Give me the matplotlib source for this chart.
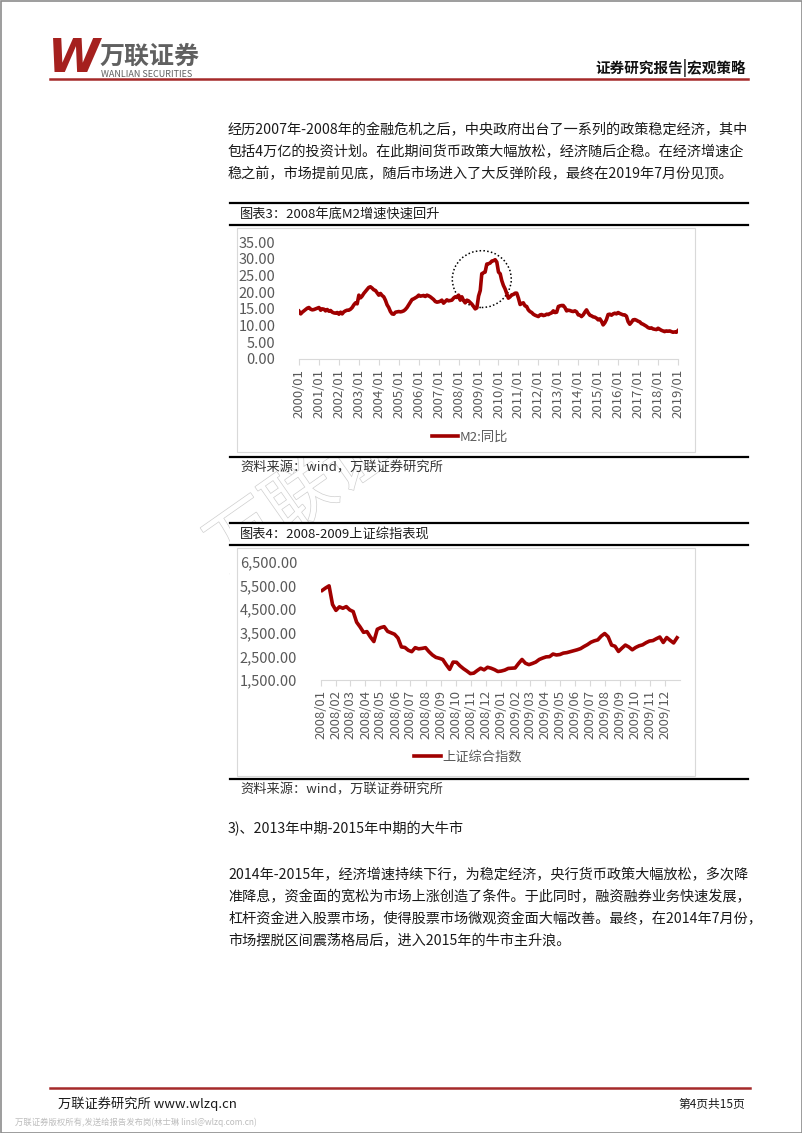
import numpy as np
import pandas as pd
import matplotlib
matplotlib.use("Agg")
import matplotlib.pyplot as plt
import matplotlib.dates as mdates
import matplotlib.patheffects as pe
from matplotlib.patches import Ellipse, Rectangle

plt.rcParams['font.family'] = ['Noto Sans CJK SC', 'DejaVu Sans']

# M2 yoy, monthly 2000/01 - 2019/01
m2_yoy = [
    14.3, 13.5, 14.0, 14.4, 14.8, 15.2, 15.4, 14.9, 14.7, 14.8, 15.0, 15.2,
    15.4, 14.6, 15.0, 14.9, 14.4, 14.8, 14.3, 14.5, 14.0, 13.8, 13.7, 13.9,
    13.4, 14.0, 13.5, 14.1, 14.4, 14.6, 14.6, 14.9, 15.4, 16.2, 16.8, 16.5,
    19.1, 18.3, 18.8, 19.6, 20.2, 20.8, 21.4, 21.6, 21.2, 20.7, 20.5, 19.8,
    19.1, 19.6, 19.0, 18.6, 17.6, 16.2, 15.4, 14.2, 13.5, 13.4, 14.0, 14.1,
    14.2, 14.1, 14.2, 14.4, 14.8, 15.4, 16.2, 17.0, 17.8, 18.0, 18.3, 18.6,
    19.1, 18.8, 18.9, 19.0, 18.7, 19.1, 18.9, 18.6, 18.2, 17.8, 17.2, 17.0,
    17.1, 17.3, 17.6, 16.7, 17.2, 17.7, 17.4, 17.5, 17.6, 18.2, 18.6, 18.4,
    19.1, 17.6, 18.6, 17.5, 16.8, 17.6, 17.4, 16.9, 16.4, 15.7, 15.0, 15.3,
    18.8, 20.5, 25.5, 25.8, 26.0, 28.4, 28.5, 28.7, 29.3, 29.4, 29.7, 29.0,
    26.0, 25.5, 23.5, 22.0, 21.0, 19.6, 18.2, 18.6, 19.2, 19.3, 19.7, 19.7,
    18.2, 16.3, 16.6, 16.8, 15.9, 15.7, 14.7, 14.2, 13.9, 13.4, 13.1, 12.9,
    12.7, 13.2, 13.3, 13.0, 13.1, 13.4, 13.3, 13.6, 13.8, 14.4, 13.9, 14.0,
    15.7, 15.9, 16.0, 16.0, 15.4, 14.4, 14.6, 14.5, 14.3, 14.2, 14.4, 14.1,
    13.2, 13.1, 12.7, 13.2, 14.0, 14.7, 13.8, 13.1, 12.9, 12.6, 12.5, 12.2,
    11.7, 12.0, 11.3, 10.2, 10.8, 11.8, 13.3, 13.4, 13.1, 13.5, 13.7, 13.5,
    13.9, 13.6, 13.4, 13.2, 13.2, 12.8, 11.2, 10.4, 11.0, 11.7, 11.8, 11.6,
    11.3, 11.1, 10.6, 10.4, 10.1, 9.8, 9.4, 9.2, 9.3, 9.0, 8.9, 8.8,
    9.2, 8.9, 8.6, 8.4, 8.2, 8.4, 8.3, 8.4, 8.2, 8.0, 8.1, 8.0,
    8.5,
]
m2_dates = pd.date_range('2000-01-01', periods=len(m2_yoy), freq='MS')
m2_yticks = [0, 5, 10, 15, 20, 25, 30, 35]

# Shanghai composite, weekly 2008-2009
sh_index = [
    5296, 5400, 5490, 4700, 4450, 4600, 4540, 4610, 4470, 4400, 3950, 3750,
    3520, 3550, 3320, 3130, 3650, 3720, 3760, 3560, 3500, 3440, 3280, 2900,
    2880, 2760, 2700, 2870, 2820, 2840, 2870, 2700, 2560, 2460, 2420, 2370,
    2150, 1950, 2260, 2250, 2100, 1980, 1880, 1770, 1790, 1900, 2000, 1930,
    2040, 2000, 1940, 1860, 1880, 1920, 1990, 2000, 2010, 2200, 2370, 2210,
    2150, 2200, 2260, 2370, 2430, 2480, 2490, 2600, 2560, 2580, 2640, 2660,
    2700, 2740, 2780, 2830, 2920, 3000, 3100, 3160, 3200, 3360, 3470, 3330,
    2980, 2930, 2710, 2850, 2980, 2900, 2780, 2880, 2950, 2990, 3080, 3150,
    3170, 3250, 3320, 3090, 3300, 3180, 3070, 3290,
]
sh_dates = pd.date_range('2008-01-04', periods=len(sh_index), freq='7D')
sh_yticks = [1500, 2500, 3500, 4500, 5500, 6500]

W, H = 802, 1133
RED = '#A00000'
GRAY_TXT = '#595959'
AXIS_GRAY = '#D9D9D9'

fig = plt.figure(figsize=(W / 100, H / 100), dpi=100)
bg = fig.add_axes([0, 0, 1, 1])
bg.set_xlim(0, W)
bg.set_ylim(H, 0)
bg.axis('off')


def fig_axes(x0, y0, x1, y1):
    return fig.add_axes([x0 / W, 1 - y1 / H, (x1 - x0) / W, (y1 - y0) / H])


# page frame
bg.add_patch(Rectangle((0.5, 0.5), W - 1, H - 1, fill=False, ec='#8C8C8C', lw=1.2))

# watermark (outline only, hidden behind chart boxes)
bg.text(330, 478, '万联证券', fontsize=50, color='white', rotation=35, va='center', ha='center',
        zorder=0, path_effects=[pe.withStroke(linewidth=1.0, foreground='#CFCFCF')])

# header
bg.text(48, 60, 'W', fontsize=34, fontweight='bold', style='italic', color='#A5201E',
        family='DejaVu Sans', va='center', ha='left')
bg.text(100, 64, '万联证券', fontsize=18, color='#606060', va='baseline', ha='left', fontweight='bold')
bg.text(101, 70, 'WANLIAN SECURITIES', fontsize=6.5, color='#606060', va='top', ha='left')
bg.plot([50, 748], [79, 79], color='#A52A2A', lw=1.8)
bg.text(746, 68, '证券研究报告|宏观策略', fontsize=10.5, fontweight='bold', color='#111111',
        va='center', ha='right')

# paragraph 1
para1 = [
    '经历2007年-2008年的金融危机之后，中央政府出台了一系列的政策稳定经济，其中',
    '包括4万亿的投资计划。在此期间货币政策大幅放松，经济随后企稳。在经济增速企',
    '稳之前，市场提前见底，随后市场进入了大反弹阶段，最终在2019年7月份见顶。',
]
for i, line in enumerate(para1):
    bg.text(228, 130 + 22 * i, line, fontsize=10.2, color='#1A1A1A', va='center', ha='left')


# chart blocks
def chart_frame(y_top, y_title, y_under, box_top, box_bot, y_bottom, title, y_src):
    bg.add_patch(Rectangle((230, y_top), 518, y_bottom - y_top, fc='white', ec='none', zorder=1))
    bg.plot([230, 748], [y_top, y_top], color='black', lw=1.6, zorder=2)
    bg.text(240, y_title, title, fontsize=9.5, color='#1A1A1A', va='center', ha='left', zorder=2)
    bg.plot([230, 748], [y_under, y_under], color='black', lw=1.6, zorder=2)
    bg.add_patch(Rectangle((237, box_top), 458, box_bot - box_top, fc='white', ec='#D9D9D9',
                           lw=0.8, zorder=2))
    bg.plot([230, 748], [y_bottom, y_bottom], color='black', lw=1.6, zorder=2)
    bg.text(240, y_src, '资料来源：wind，万联证券研究所', fontsize=9.5, color='#333333',
            va='center', ha='left', zorder=2)


chart_frame(203, 214, 225, 228, 452, 457, '图表3：2008年底M2增速快速回升', 468)
chart_frame(523, 534, 545, 548, 776, 779, '图表4：2008-2009上证综指表现', 790)

# chart 1: M2
ax1 = fig_axes(299, 242, 678, 359)
ax1.plot(m2_dates, m2_yoy, color=RED, lw=2.6, label='M2:同比', solid_joinstyle='round')
ax1.set_xlim(m2_dates[0], m2_dates[-1])
ax1.set_ylim(0, 35)
ax1.set_yticks(m2_yticks)
ax1.set_yticklabels(['%.2f' % v for v in m2_yticks])
ax1.xaxis.set_major_locator(mdates.YearLocator(1, month=1, day=1))
ax1.xaxis.set_major_formatter(mdates.DateFormatter('%Y/%m'))
for s in ['top', 'right', 'left']:
    ax1.spines[s].set_visible(False)
ax1.spines['bottom'].set_color(AXIS_GRAY)
ax1.tick_params(axis='y', length=0, labelsize=10.5, labelcolor=GRAY_TXT, pad=17)
ax1.tick_params(axis='x', length=4, color=AXIS_GRAY, labelsize=9.5, labelcolor=GRAY_TXT,
                rotation=90, pad=3)
ax1.set_facecolor('none')
circle = Ellipse((mdates.date2num(pd.Timestamp('2009-03-01')), 23.9), width=1080, height=17,
                 fill=False, ec='black', ls=(0, (1, 1.5)), lw=1.1, clip_on=False)
ax1.add_patch(circle)
ax1.legend(loc='center', bbox_to_anchor=(470 / W, 1 - 437 / H), bbox_transform=fig.transFigure,
           frameon=False, fontsize=9.5, labelcolor=GRAY_TXT, handlelength=2.0, handletextpad=0.1)

# chart 2: SH composite
ax2 = fig_axes(320.7, 562, 680, 680)
ax2.plot(sh_dates, sh_index, color=RED, lw=2.6, label='上证综合指数', solid_joinstyle='round')
ax2.set_xlim(pd.Timestamp('2008-01-01'), pd.Timestamp('2009-12-31'))
ax2.set_ylim(1500, 6500)
ax2.set_yticks(sh_yticks)
ax2.set_yticklabels(['{:,.2f}'.format(v) for v in sh_yticks])
ax2.xaxis.set_major_locator(mdates.MonthLocator(bymonthday=1))
ax2.xaxis.set_major_formatter(mdates.DateFormatter('%Y/%m'))
for s in ['top', 'right', 'left']:
    ax2.spines[s].set_visible(False)
ax2.spines['bottom'].set_color(AXIS_GRAY)
ax2.tick_params(axis='y', length=0, labelsize=10.5, labelcolor=GRAY_TXT, pad=17)
ax2.tick_params(axis='x', length=4, color=AXIS_GRAY, labelsize=9.5, labelcolor=GRAY_TXT,
                rotation=90, pad=3)
ax2.set_facecolor('none')
ax2.legend(loc='center', bbox_to_anchor=(468 / W, 1 - 757 / H), bbox_transform=fig.transFigure,
           frameon=False, fontsize=9.5, labelcolor=GRAY_TXT, handlelength=2.0, handletextpad=0.1)

# section 3
bg.text(228, 829, '3)、2013年中期-2015年中期的大牛市', fontsize=10.2, color='#1A1A1A',
        va='center', ha='left')
para2 = [
    '2014年-2015年，经济增速持续下行，为稳定经济，央行货币政策大幅放松，多次降',
    '准降息，资金面的宽松为市场上涨创造了条件。于此同时，融资融券业务快速发展，',
    '杠杆资金进入股票市场，使得股票市场微观资金面大幅改善。最终，在2014年7月份，',
    '市场摆脱区间震荡格局后，进入2015年的牛市主升浪。',
]
for i, line in enumerate(para2):
    bg.text(228, 875 + 22 * i, line, fontsize=10.2, color='#1A1A1A', va='center', ha='left')

# footer
bg.plot([50, 750], [1088, 1088], color='#A52A2A', lw=1.8)
bg.text(58, 1104, '万联证券研究所 www.wlzq.cn', fontsize=9.5, color='#1A1A1A', va='center', ha='left')
bg.text(745, 1104, '第4页共15页', fontsize=8.5, color='#1A1A1A', va='center', ha='right')
bg.text(15, 1122, '万联证券版权所有,发送给报告发布岗(林士琳 linsl@wlzq.com.cn)', fontsize=6,
        color='#BDBDBD', va='center', ha='left')

fig.savefig('out.png', dpi=100)
